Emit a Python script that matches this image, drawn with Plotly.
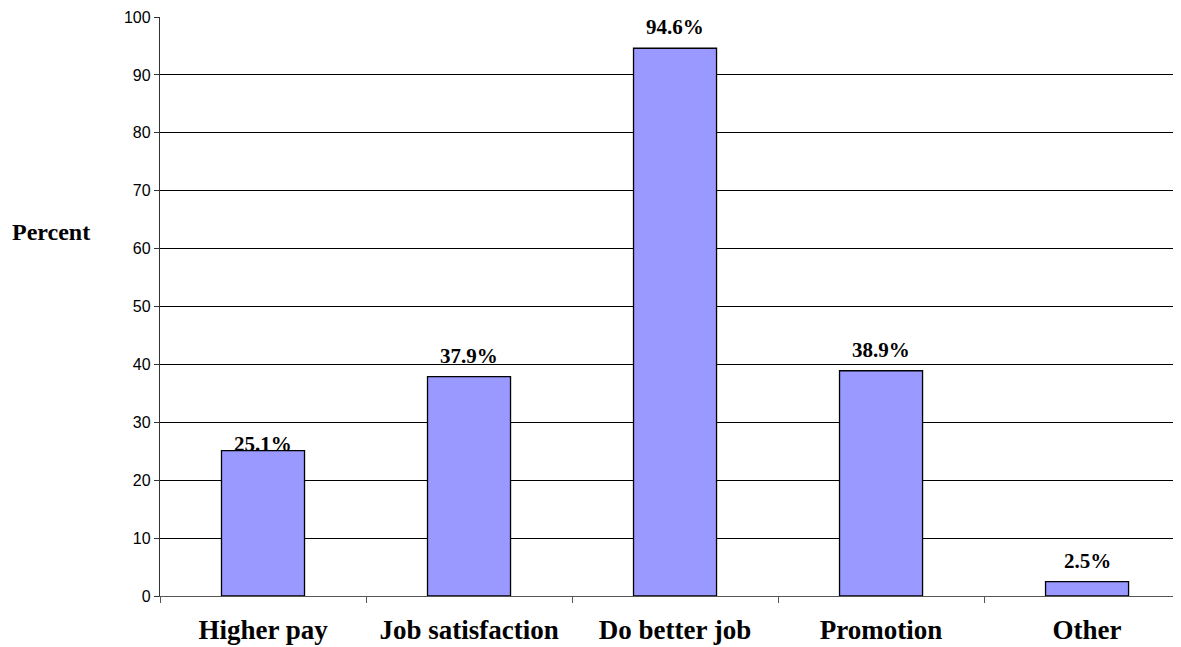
import plotly.graph_objects as go

categories = ["Higher pay", "Job satisfaction", "Do better job", "Promotion", "Other"]
values = [25.1, 37.9, 94.6, 38.9, 2.5]
labels = ["25.1%", "37.9%", "94.6%", "38.9%", "2.5%"]
label_shift = [-7, 7, 7, 7, 7]

fig = go.Figure()
fig.add_trace(go.Bar(
    x=categories, y=values, width=0.403,
    marker=dict(color="#9999FF", line=dict(color="black", width=1.3)),
    hoverinfo="skip",
))
for c, v, t, s in zip(categories, values, labels, label_shift):
    fig.add_annotation(x=c, y=v, text=t, showarrow=False, yanchor="bottom", yshift=s,
                       font=dict(family="Liberation Serif", size=21, color="black", weight="bold"))

fig.add_annotation(xref="paper", yref="paper", x=-0.0666, y=0.629, text="Percent", showarrow=False,
                   xanchor="right", yanchor="middle",
                   font=dict(family="Liberation Serif", size=24, color="black", weight="bold"))

fig.update_layout(
    width=1173, height=639,
    margin=dict(l=152, r=0, t=9, b=51),
    plot_bgcolor="white", paper_bgcolor="white",
    showlegend=False, bargap=0.6,
    xaxis=dict(range=[-0.5, 4.456], tickson="boundaries", ticks="outside", ticklen=6, tickcolor="#555",
               showline=True, linecolor="#555", linewidth=1.3, showgrid=False, automargin=False,
               ticklabelstandoff=9,
               tickfont=dict(family="Liberation Serif", size=27, color="black", weight="bold")),
    yaxis=dict(range=[0, 100], tickvals=list(range(0, 101, 10)), ticks="outside", ticklen=5, tickcolor="#333",
               showline=True, linecolor="#333", linewidth=1.3, showgrid=True, gridcolor="black", gridwidth=1,
               zeroline=False, automargin=False,
               tickfont=dict(family="Liberation Sans", size=16, color="black")),
)
fig.write_html("out.html")
